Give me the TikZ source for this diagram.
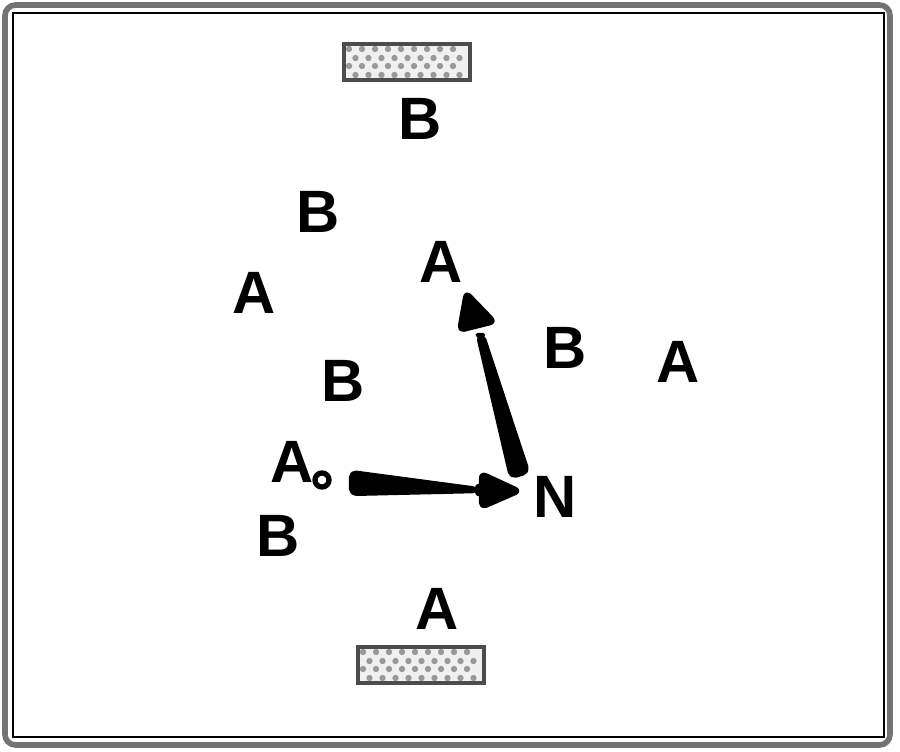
\documentclass[tikz,border=0pt]{standalone}
\usepackage{fontspec}
\setmainfont{Liberation Sans}
\tikzset{
  lbl/.style={font=\bfseries\fontsize{17}{17}\selectfont, inner sep=0pt},
  wedge/.style={fill=black, draw=black, line width=1.2pt, line join=round, rounded corners=1.5pt},
  pad/.pic = {
    \begin{scope}
      \clip (-63,-18) rectangle (63,18);
      \fill[black!6] (-63,-18) rectangle (63,18);
      \foreach \r/\o in {-13/0, -4/6.5, 4/0, 13/6.5}
        \foreach \c in {-58,-45,...,58}
          \fill[black!40] (\c+\o,\r) circle[radius=0.9pt];
    \end{scope}
    \draw[black!70, line width=1.2pt] (-63,-18) rectangle (63,18);
  },
  ring/.pic = {
    \draw[line width=1.5pt] (0,0) circle[radius=2pt];
  }
}
\begin{document}
\begin{tikzpicture}[x=0.01cm, y=-0.01cm]
\useasboundingbox (0,0) rectangle (900,752);

% 枠
\draw[black!55, line width=1.6pt, rounded corners=3pt] (5,5) rectangle (890,745);
\draw[line width=0.5pt] (13,13) rectangle (884,737);

% 上下のパッド
\path (407,62) pic {pad};
\path (421,665) pic {pad};

% 文字
\node[lbl] (b1) at (420,119) {B};
\node[lbl] (b2) at (318,212) {B};
\node[lbl] (a1) at (441,262) {A};
\node[lbl] (a2) at (254,293) {A};
\node[lbl] (b3) at (565,348) {B};
\node[lbl] (a3) at (678,362) {A};
\node[lbl] (b4) at (343,381) {B};
\node[lbl] (a4) at (292,462) {A};
\node[lbl] (n)  at (555,497) {N};
\node[lbl] (b5) at (278,536) {B};
\node[lbl] (a5) at (437,609) {A};

% Aの横の小円
\path (322,480) pic {ring};

% 横向きの矢の点
\coordinate (hT1) at (351,472);
\coordinate (hT2) at (351,494);
\coordinate (hP)  at (478,490);
\coordinate (hTip) at (520,491);

% 縦向きの矢の点
\coordinate (vT1) at (528,472);
\coordinate (vT2) at (511,477);
\coordinate (vP)  at (480,335);
\coordinate (vTip) at (466,292);

% 横向きの矢
\filldraw[wedge] (hT1) -- ([yshift=0.3pt]hP) -- ([yshift=-0.3pt]hP) -- (hT2) -- cycle;
\filldraw[wedge] (481,473) -- (hTip) -- (481,508) -- cycle;

% 縦向きの矢
\filldraw[wedge] ([xshift=-0.6pt]vP) -- ([xshift=0.8pt]vP) -- (vT1) -- (vT2) -- cycle;
\filldraw[wedge] (vTip) -- (495,322) -- (459,331) -- cycle;
\end{tikzpicture}
\end{document}
